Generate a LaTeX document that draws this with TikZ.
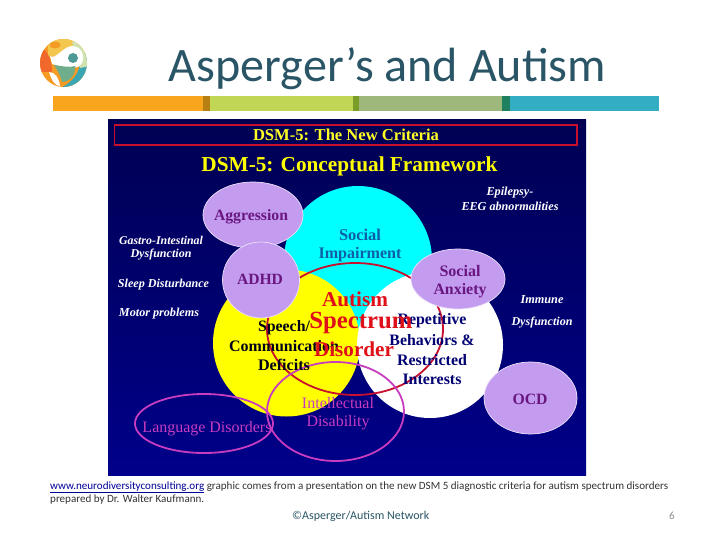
\documentclass[tikz,border=0pt]{standalone}
\usepackage{fontspec}
\usepackage{graphicx}
\setmainfont{Liberation Serif}
\newfontfamily\uifont{Carlito}
\newcommand{\fw}[2]{\resizebox{#1pt}{!}{#2}}
\definecolor{titlecol}{HTML}{2A5566}
\definecolor{lilac}{HTML}{C39BEF}
\definecolor{plum}{HTML}{6A1680}
\definecolor{socblue}{HTML}{0F5FA8}
\definecolor{magenta2}{HTML}{C83CC0}
\definecolor{dsmred}{HTML}{E0101A}
\definecolor{panelnavy}{HTML}{00008A}
\definecolor{ringred}{HTML}{C8102E}
\definecolor{purecyan}{HTML}{00FFFF}
\definecolor{pureyellow}{HTML}{FFFF00}
\definecolor{logoorange}{HTML}{F59A23}
\definecolor{logoyellow}{HTML}{F3C64E}
\definecolor{logopale}{HTML}{CFE3B0}
\definecolor{logoteal}{HTML}{3AA6B4}
\definecolor{logogreen}{HTML}{6FAE8C}
\definecolor{logored}{HTML}{F0682C}
\definecolor{logodot}{HTML}{4F9A94}
\definecolor{barA}{HTML}{F9A51E}
\definecolor{barAd}{HTML}{B87F12}
\definecolor{barB}{HTML}{C2D655}
\definecolor{barBd}{HTML}{7C9C28}
\definecolor{barC}{HTML}{9DB87A}
\definecolor{barCd}{HTML}{1F8060}
\definecolor{barD}{HTML}{33ADC2}
\usetikzlibrary{shapes.geometric}
\tikzset{
  lilacblob/.style={ellipse,draw=white!70!lilac,line width=0.7pt,fill=lilac,inner sep=0pt},
  lab/.style={inner sep=0pt,font=\bfseries},
  side/.style={inner sep=0pt,text=white,font=\bfseries\itshape},
  ring/.style={ellipse,draw,line width=1.8pt,inner sep=0pt},
  foot/.style={inner sep=0pt,anchor=base west,font=\uifont,text=black!80},
}
\begin{document}
\begin{tikzpicture}[x=1pt,y=-1pt]
\useasboundingbox (0,0) rectangle (720,540);
\fill[white] (0,0) rectangle (720,540);
% logo
\begin{scope}
\clip (63.5,63) ellipse [x radius=23.5,y radius=24];
\fill[logoorange] (39,38) rectangle (88,88);
\fill[logoyellow] (48,36) rectangle (88,56);
\fill[logored] (38,46) .. controls (46,48) and (52,58) .. (52,72) -- (38,72) -- cycle;
\fill[logoteal] (88,52) -- (88,90) -- (56,90) .. controls (72,84) and (82,72) .. (80,56) -- cycle;
\fill[logopale] (72,42) -- (90,42) -- (90,66) -- (80,68) -- cycle;
\fill[white] (50,56) .. controls (56,60) and (62,47) .. (72,46) .. controls (84,46) and (87,62) .. (78,67) .. controls (70,69) and (58,66) .. (52,64) -- cycle;
\fill[logogreen] (54,65) .. controls (62,66) and (70,68) .. (75,66) .. controls (76,74) and (70,82) .. (62,82) .. controls (60,74) and (57,70) .. (54,65) -- cycle;
\fill[white] (49,72) .. controls (55,72) and (59,78) .. (60,86) .. controls (56,86) and (52,82) .. (49,72) -- cycle;
\fill[logodot] (73,58) circle (5);
\fill[logoorange] (55,45) ellipse [x radius=5.5,y radius=3.5];
\end{scope}
\node[inner sep=0pt,anchor=base,text=titlecol,font=\uifont] (title) at (387.5,82) {\fw{437}{Asperger’s and Autism}};
% bar
\fill[barA] (53,96) rectangle (203,111);
\fill[barAd] (203,96) rectangle (210,111);
\fill[barB] (210,96) rectangle (353,111);
\fill[barBd] (353,96) rectangle (359,111);
\fill[barC] (359,96) rectangle (502,111);
\fill[barCd] (502,96) rectangle (510,111);
\fill[barD] (510,96) rectangle (659,111);
% panel
\shade[top color=panelnavy!60!black,bottom color=panelnavy] (108,120) rectangle (586,475);
\draw[draw=ringred,line width=1.3pt] (114.5,125) rectangle (577,145);
\node[lab,text=pureyellow!85!white] (crit) at (346,134.5) {\fw{186}{DSM-5: The New Criteria}};
\node[lab,text=pureyellow] (frame) at (349.5,166) {\fw{296}{DSM-5: Conceptual Framework}};
% big circles
\fill[purecyan] (358,260) circle (74);
\fill[pureyellow] (286.5,343) circle (73.5);
\fill[white] (430,345) circle (73);
% autism ring
\node[ring,draw=ringred,minimum width=176pt,minimum height=132pt] (asd) at (355,329) {};
% lilac blobs
\node[lilacblob,minimum width=100pt,minimum height=66pt] (agg) at (253,215) {};
\node[lilacblob,minimum width=77pt,minimum height=76pt] (adhd) at (261,280) {};
\node[lilacblob,minimum width=94pt,minimum height=60pt] (anx) at (458,279) {};
\node[lilacblob,minimum width=93pt,minimum height=72pt] (ocd) at (530.5,398) {};
% magenta rings
\node[ring,draw=magenta2,minimum width=138pt,minimum height=59pt] (lang) at (204,423.5) {};
\node[ring,draw=magenta2,minimum width=137pt,minimum height=99pt] (intel) at (335.5,411.5) {};
% labels
\node[lab,text=plum] (tagg) at (251,216.5) {\fw{74}{Aggression}};
\node[lab,text=plum] (tadhd) at (260,279) {\fw{46}{ADHD}};
\node[lab,text=plum] (tsoc) at (460,271) {\fw{41}{Social}};
\node[lab,text=plum] (tanx) at (460,291) {\fw{53}{Anxiety}};
\node[lab,text=plum] (tocd) at (530,399) {\fw{35}{OCD}};
\node[lab,text=socblue] (ts1) at (360,235) {\fw{42}{Social}};
\node[lab,text=socblue] (ts2) at (360,255) {\fw{83}{Impairment}};
\node[lab,text=black!90!blue] (tsp1) at (284,328) {\fw{52}{Speech/}};
\node[lab,text=black!90!blue] (tsp2) at (284,346) {\fw{110}{Communication}};
\node[lab,text=black!90!blue] (tsp3) at (284,365) {\fw{52}{Deficits}};
\node[lab,text=blue!45!black] (tr1) at (432,321) {\fw{69}{Repetitive}};
\node[lab,text=blue!45!black] (tr2) at (432,340) {\fw{85}{Behaviors \&}};
\node[lab,text=blue!45!black] (tr3) at (432,360) {\fw{70}{Restricted}};
\node[lab,text=blue!45!black] (tr4) at (432,379) {\fw{59}{Interests}};
\node[lab,text=dsmred] (ta1) at (355,299) {\fw{66}{Autism}};
\node[lab,text=dsmred] (ta2) at (361,323) {\fw{103}{Spectrum}};
\node[lab,text=dsmred] (ta3) at (354,349) {\fw{80}{Disorder}};
\node[inner sep=0pt,text=magenta2] (tl) at (207,429) {\fw{129}{Language Disorders}};
\node[inner sep=0pt,text=magenta2] (ti1) at (338,403) {\fw{72}{Intellectual}};
\node[inner sep=0pt,text=magenta2] (ti2) at (338,423) {\fw{63}{Disability}};
\node[side] (g1) at (161,240) {\fw{84}{Gastro-Intestinal}};
\node[side] (g2) at (161,255) {\fw{61}{Dysfunction}};
\node[side] (g3) at (163.5,285) {\fw{91}{Sleep Disturbance}};
\node[side] (g4) at (159,314) {\fw{80}{Motor problems}};
\node[side] (e1) at (510,192.5) {\fw{47}{Epilepsy-}};
\node[side] (e2) at (510,206.5) {\fw{97}{EEG abnormalities}};
\node[side] (i1) at (542,300) {\fw{43}{Immune}};
\node[side] (i2) at (542,323) {\fw{61}{Dysfunction}};
% footer
\node[foot] (f1) at (50,489) {\fw{618}{\textcolor{blue!60!black}{\underline{www.neurodiversityconsulting.org}} graphic comes from a presentation on the new DSM 5 diagnostic criteria for autism spectrum disorders}};
\node[foot] (f2) at (50,502) {\fw{154}{prepared by Dr. Walter Kaufmann.}};
\node[foot,text=titlecol] (f3) at (292,519) {\fw{137}{©Asperger/Autism Network}};
\node[foot,text=black!45] (f4) at (669,519) {\fontsize{11}{13}\selectfont 6};
\end{tikzpicture}
\end{document}
